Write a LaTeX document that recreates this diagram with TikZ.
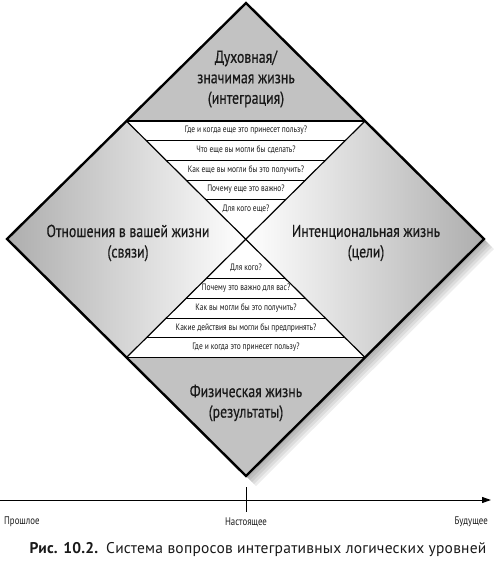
\documentclass[tikz,border=0pt]{standalone}
\usepackage{fontspec}
\setmainfont{PT Sans}
\newfontfamily\condfont{PT Sans}[FakeStretch=0.8]
\newfontfamily\zonefont{PT Sans}[FakeStretch=0.8, FakeBold=0.4]
\newfontfamily\capfont{PT Sans}[LetterSpace=1.5]
\usetikzlibrary{calc}
\usetikzlibrary{arrows.meta}
\definecolor{capgray}{gray}{0.76}
\definecolor{sidegray}{gray}{0.68}
\definecolor{inkgray}{gray}{0.1}
\tikzset{
	zone/.style={font=\zonefont\fontsize{17.3}{20.5}\selectfont, text=inkgray, align=center, inner sep=0pt},
	ask/.style={font=\condfont\fontsize{9.3}{10}\selectfont, text=inkgray, inner sep=0pt},
	timelabel/.style={font=\condfont\fontsize{11}{12}\selectfont, text=inkgray, inner sep=0pt},
	rowline/.style={line width=0.9pt},
}
\newcommand{\shadowlayer}[2] % x shift, y shift of one shadow layer
{
	\fill[black, opacity=0.07] ($(top)+(#1,#2)$) -- ($(right)+(#1,#2)$)
		-- ($(bottom)+(#1,#2)$) -- ($(left)+(#1,#2)$) -- cycle;
}
\newcommand{\question}[3] % name, y in px, text
{
	\node[ask] (#1) at (246,#2) {#3};
}
\begin{document}
\begin{tikzpicture}[x=1pt, y=-1pt]
	% 500px x 568px, 1px = 1pt
	\useasboundingbox (0,0) rectangle (500,568);
	% corners of the diamond
	\coordinate (top) at (246,3);
	\coordinate (right) at (484,239);
	\coordinate (bottom) at (246,476);
	\coordinate (left) at (7,239);
	\coordinate (mid) at (246,239);
	% corners of the two bands
	\coordinate (tl) at ($(top)!.5!(left)$);
	\coordinate (tr) at ($(top)!.5!(right)$);
	\coordinate (bl) at ($(bottom)!.5!(left)$);
	\coordinate (br) at ($(bottom)!.5!(right)$);
	% soft shadow
	\shadowlayer{2}{2}
	\shadowlayer{4}{4}
	\shadowlayer{6}{6}
	\shadowlayer{8}{8}
	\shadowlayer{10}{10}
	% fills
	\fill[capgray] (top) -- (tr) -- (tl) -- cycle;
	\fill[capgray] (bottom) -- (bl) -- (br) -- cycle;
	\fill[white] (tl) -- (tr) -- (mid) -- cycle;
	\fill[white] (bl) -- (br) -- (mid) -- cycle;
	\shade[left color=sidegray, right color=white] (left) -- (tl) -- (mid) -- (bl) -- cycle;
	\shade[left color=white, right color=sidegray] (right) -- (tr) -- (mid) -- (br) -- cycle;
	% bands
	\draw[line width=1.2pt] (tl) -- (tr);
	\draw[line width=1.2pt] (bl) -- (br);
	\draw[line width=1.2pt] (tl) -- (br);
	\draw[line width=1.2pt] (tr) -- (bl);
	% rows of the upper band
	\draw[rowline] ($(tl)!1/6!(mid)$) -- ($(tr)!1/6!(mid)$);
	\draw[rowline] ($(tl)!2/6!(mid)$) -- ($(tr)!2/6!(mid)$);
	\draw[rowline] ($(tl)!3/6!(mid)$) -- ($(tr)!3/6!(mid)$);
	\draw[rowline] ($(tl)!4/6!(mid)$) -- ($(tr)!4/6!(mid)$);
	% rows of the lower band
	\draw[rowline] ($(mid)!2/6!(bl)$) -- ($(mid)!2/6!(br)$);
	\draw[rowline] ($(mid)!3/6!(bl)$) -- ($(mid)!3/6!(br)$);
	\draw[rowline] ($(mid)!4/6!(bl)$) -- ($(mid)!4/6!(br)$);
	\draw[rowline] ($(mid)!5/6!(bl)$) -- ($(mid)!5/6!(br)$);
	% outline
	\draw[line width=2.4pt, line join=miter] (top) -- (right) -- (bottom) -- (left) -- cycle;
	% zone labels
	\node[zone] (spirit) at (246,79) {Духовная/\\значимая жизнь\\(интеграция)};
	\node[zone] (relations) at (128,243) {Отношения в вашей жизни\\(связи)};
	\node[zone] (intent) at (366,243) {Интенциональная жизнь\\(цели)};
	\node[zone] (body) at (246,403) {Физическая жизнь\\(результаты)};
	% questions
	\question{qa}{130}{Где и когда еще это принесет пользу?}
	\question{qb}{150}{Что еще вы могли бы сделать?}
	\question{qc}{170}{Как еще вы могли бы это получить?}
	\question{qd}{189}{Почему еще это важно?}
	\question{qe}{209}{Для кого еще?}
	\question{qf}{268}{Для кого?}
	\question{qg}{288}{Почему это важно для вас?}
	\question{qh}{308}{Как вы могли бы это получить?}
	\question{qi}{328}{Какие действия вы могли бы предпринять?}
	\question{qj}{347}{Где и когда это принесет пользу?}
	% time axis
	\coordinate (start) at (0,500);
	\coordinate (end) at (491,500);
	\coordinate (ticktop) at (246,487);
	\coordinate (tickbot) at (246,512);
	\draw[line width=1pt, -{Triangle[length=9pt, width=6pt]}] (start) -- (end);
	\draw[line width=0.8pt] (ticktop) -- (tickbot);
	\node[timelabel, anchor=west] (past) at (4,522) {Прошлое};
	\node[timelabel] (now) at (246,522) {Настоящее};
	\node[timelabel, anchor=east] (future) at (488,522) {Будущее};
	% caption
	\node[font=\capfont\fontsize{15.5}{17}\selectfont, text=inkgray, inner sep=0pt] (caption) at (258,550)
		{\textbf{Рис. 10.2.}\enspace Система вопросов интегративных логических уровней};
\end{tikzpicture}
\end{document}
